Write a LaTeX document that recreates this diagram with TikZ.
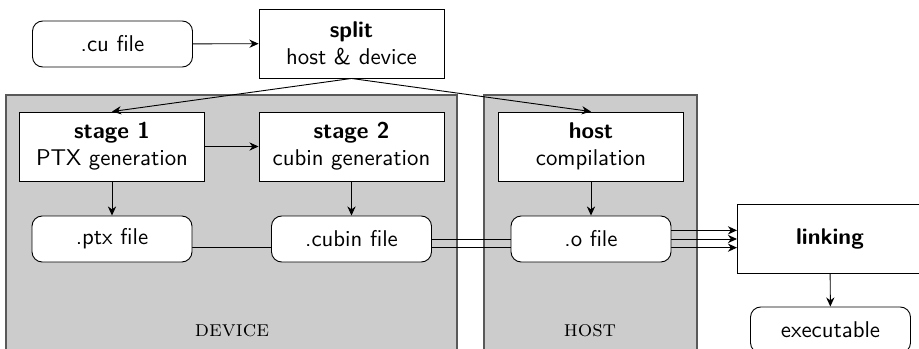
\documentclass[tikz,border=0pt]{standalone}
\usetikzlibrary{arrows.meta,positioning,calc}
\pgfdeclarelayer{bg}
\pgfsetlayers{bg,main}
\begin{document}
\begin{tikzpicture}[x=0.4386pt,y=-0.4386pt,
  every node/.style={font=\sffamily},
  proc/.style={draw,fill=white,align=center,inner sep=0pt,
    minimum width={185*0.4386pt},minimum height={69*0.4386pt}},
  file/.style={draw,fill=white,rounded corners=4.5pt,inner sep=0pt,
    minimum width={160*0.4386pt},minimum height={46*0.4386pt}},
  region/.style={draw=black!65,fill=black!20,line width=0.6pt},
  arr/.style={-{Stealth[length=4pt,width=3.6pt]}},
  lbl/.style={font=\rmfamily\scshape}]
\useasboundingbox (0,0) rectangle (919,349);
\clip (0,0) rectangle (919,349);

% regions
\begin{pgfonlayer}{bg}
\draw[region] (6,95) rectangle (457,370);
\draw[region] (484,95) rectangle (697,370);
\end{pgfonlayer}
\node[lbl] (devlbl) at (232,331) {device};
\node[lbl] (hostlbl) at (590,331) {host};

% nodes
\node[file] (cu) at (112.5,44) {.cu file};
\node[proc] (split) at (351.5,43.5) {\textbf{split}\\host \& device};
\node[proc] (st1) at (112,146.5) {\textbf{stage 1}\\PTX generation};
\node[proc] (st2) at (351.5,146.5) {\textbf{stage 2}\\cubin generation};
\node[proc] (hc) at (591,146.5) {\textbf{host}\\compilation};
\node[file] (ptx) at (112,239) {.ptx file};
\node[file] (cubin) at (351.5,239) {.cubin file};
\node[file] (ofile) at (591,239) {.o file};
\node[proc,anchor=west] (link) at (737,238.5) {\textbf{linking}};
\node[file] (exe) at (830.5,330) {executable};

% connectors
\draw[arr] (cu) -- (split);
\draw[arr] (split.south) -- (st1.north);
\draw[arr] (split.south) -- (hc.north);
\draw[arr] (st1) -- (st2);
\draw[arr] (st1) -- (ptx);
\draw[arr] (st2) -- (cubin);
\draw[arr] (hc) -- (ofile);
\draw[arr] (link) -- (exe);

\path ([yshift=-3.8pt]ptx.east) coordinate (p1);
\path ([yshift=3.8pt]ofile.east) coordinate (o1);
\begin{pgfonlayer}{bg}
\draw[arr] (p1) -- (p1 -| link.west);
\draw[arr] (cubin.east) -- (cubin.east -| link.west);
\end{pgfonlayer}
\draw[arr] (o1) -- (o1 -| link.west);
\end{tikzpicture}
\end{document}
